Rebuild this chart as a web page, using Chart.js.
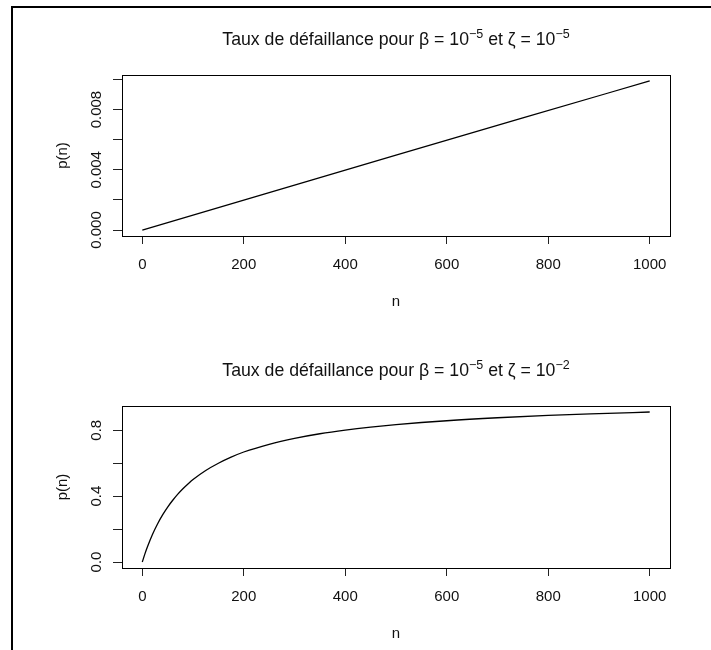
<!DOCTYPE html>
<html>
<head>
<meta charset="utf-8">
<script src="https://cdn.jsdelivr.net/npm/chart.js@4.4.1/dist/chart.umd.min.js"></script>
<style>
    html, body { margin: 0; padding: 0; background: #fff; }
    #page { position: relative; width: 711px; height: 650px; overflow: hidden; }
    #frame { position: absolute; left: 11px; top: 6px; width: 720px; height: 660px;
             border-left: 2px solid #000; border-top: 2px solid #000; }
    .box { position: absolute; left: 0; width: 711px; }
    #box1 { top: 0; height: 331px; }
    #box2 { top: 331px; height: 319px; }
</style>
</head>
<body>
<div id="page">
    <div id="frame"></div>
    <div class="box" id="box1"><canvas id="chart1" width="711" height="331"></canvas></div>
    <div class="box" id="box2"><canvas id="chart2" width="711" height="319"></canvas></div>
</div>
<script>
// Top panel: beta = 1e-5, zeta = 1e-5 (nearly straight line)
const n1 = [0, 250, 500, 750, 1000];
const p1 = [0, 0.00249, 0.00498, 0.00745, 0.0099];

// Bottom panel: beta = 1e-5, zeta = 1e-2
const n2 = [0, 5, 10, 20, 30, 40, 50, 60, 70, 80, 90, 100, 125, 150, 175, 200,
            250, 300, 350, 400, 450, 500, 600, 700, 800, 900, 1000];
const p2 = [0, 0.048, 0.091, 0.167, 0.231, 0.286, 0.334, 0.375, 0.412, 0.445, 0.474,
            0.501, 0.556, 0.600, 0.637, 0.668, 0.715, 0.751, 0.779, 0.801, 0.819,
            0.834, 0.858, 0.876, 0.890, 0.901, 0.911];

// Tick positions and labels (R only labels every other tick)
const xTicks = [0, 200, 400, 600, 800, 1000];
const yTicks1 = [0, 0.002, 0.004, 0.006, 0.008, 0.010];
const yLabels1 = ["0.000", "", "0.004", "", "0.008", ""];
const yTicks2 = [0, 0.2, 0.4, 0.6, 0.8];
const yLabels2 = ["0.0", "", "0.4", "", "0.8"];

// Titles: [text, superscript, text, superscript]
const title1 = ["Taux de défaillance pour β = 10", "−5", " et ζ = 10", "−5"];
const title2 = ["Taux de défaillance pour β = 10", "−5", " et ζ = 10", "−2"];

const FONT = '"Liberation Sans", Arial, sans-serif';

// Box, rotated y labels, axis titles and the plotmath-like title
const rDecor = {
    id: "rDecor",
    afterDraw(chart, args, opts) {
        const { ctx, chartArea: a, scales: { y } } = chart;
        ctx.save();
        ctx.strokeStyle = "#000";
        ctx.lineWidth = 1;
        ctx.strokeRect(Math.round(a.left) + 0.5, Math.round(a.top) + 0.5,
            Math.round(a.right - a.left), Math.round(a.bottom - a.top));

        ctx.fillStyle = "#111";
        ctx.font = "15px " + FONT;
        ctx.textAlign = "center";
        ctx.textBaseline = "alphabetic";
        opts.yTicks.forEach((v, i) => {
            if (!opts.yLabels[i]) return;
            ctx.save();
            ctx.translate(a.left - 21.5, y.getPixelForValue(v));
            ctx.rotate(-Math.PI / 2);
            ctx.fillText(opts.yLabels[i], 0, 0);
            ctx.restore();
        });

        const cx = (a.left + a.right) / 2;
        ctx.fillText("n", cx, a.bottom + 70);
        ctx.save();
        ctx.translate(a.left - 59, (a.top + a.bottom) / 2);
        ctx.rotate(-Math.PI / 2);
        ctx.textBaseline = "middle";
        ctx.fillText("p(n)", 0, 0);
        ctx.restore();

        // title
        const big = "17.7px " + FONT, small = "12.5px " + FONT;
        let total = 0;
        opts.title.forEach((t, i) => {
            ctx.font = i % 2 ? small : big;
            total += ctx.measureText(t).width;
        });
        let tx = cx - total / 2;
        const ty = a.top - 30;
        ctx.textAlign = "left";
        opts.title.forEach((t, i) => {
            ctx.font = i % 2 ? small : big;
            ctx.fillText(t, tx, i % 2 ? ty - 7 : ty);
            tx += ctx.measureText(t).width;
        });
        ctx.restore();
    }
};

function makeChart(id, xs, ys, yTicks, yLabels, title, canvasHeight, areaBottom) {
    const xMin = Math.min(...xs), xMax = Math.max(...xs);
    const yMin = Math.min(...ys), yMax = Math.max(...ys);
    const xPad = (xMax - xMin) * 0.04, yPad = (yMax - yMin) * 0.04;

    return new Chart(document.getElementById(id), {
        type: "line",
        data: {
            datasets: [{
                data: xs.map((v, i) => ({ x: v, y: ys[i] })),
                borderColor: "#000",
                borderWidth: 1.3,
                pointRadius: 0,
                fill: false,
                cubicInterpolationMode: "monotone"
            }]
        },
        options: {
            responsive: false,
            animation: false,
            devicePixelRatio: 1,
            layout: { padding: { left: 0, right: 41, top: 75, bottom: 0 } },
            plugins: {
                legend: { display: false },
                tooltip: { enabled: false },
                rDecor: { yTicks: yTicks, yLabels: yLabels, title: title }
            },
            scales: {
                x: {
                    type: "linear",
                    min: xMin - xPad,
                    max: xMax + xPad,
                    afterBuildTicks: s => { s.ticks = xTicks.map(v => ({ value: v })); },
                    afterFit: s => { s.height = canvasHeight - areaBottom; },
                    border: { display: false },
                    grid: { drawOnChartArea: false, drawTicks: true, tickLength: 8, color: "#222" },
                    ticks: { color: "#111", font: { family: FONT, size: 15 }, padding: 12,
                             maxRotation: 0, autoSkip: false, callback: v => String(v) }
                },
                y: {
                    type: "linear",
                    min: yMin - yPad,
                    max: yMax + yPad,
                    afterBuildTicks: s => { s.ticks = yTicks.map(v => ({ value: v })); },
                    afterFit: s => { s.width = 122; },
                    border: { display: false },
                    grid: { drawOnChartArea: false, drawTicks: true, tickLength: 9, color: "#222" },
                    ticks: { display: false }
                }
            }
        },
        plugins: [rDecor]
    });
}

makeChart("chart1", n1, p1, yTicks1, yLabels1, title1, 331, 236);
makeChart("chart2", n2, p2, yTicks2, yLabels2, title2, 319, 237);
</script>
</body>
</html>
